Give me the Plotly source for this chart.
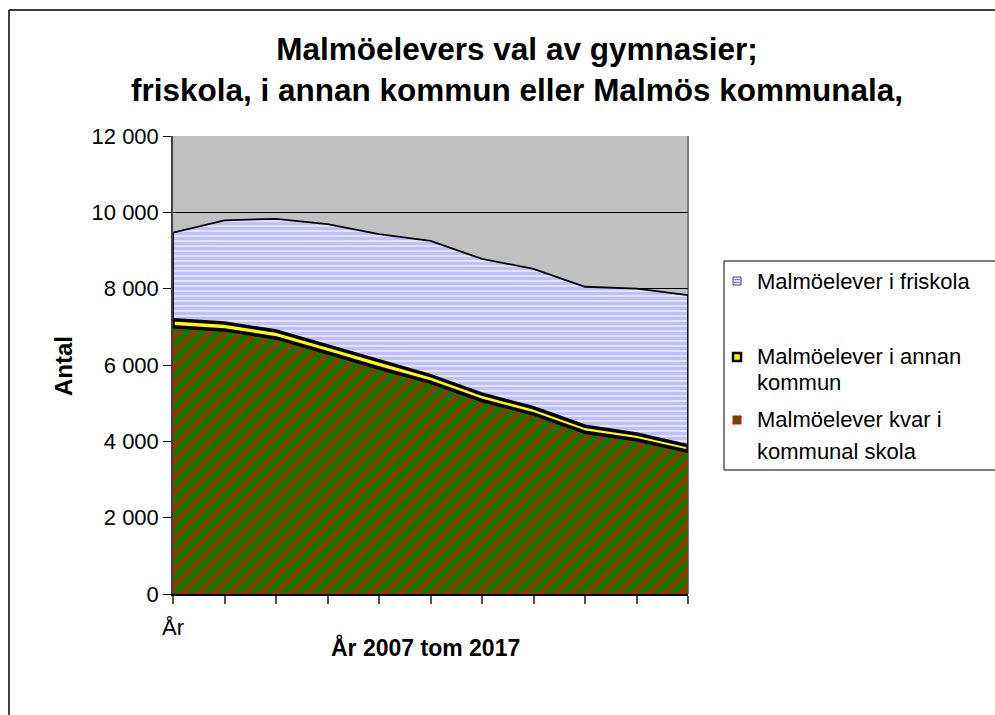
import plotly.graph_objects as go

years = [2007, 2008, 2009, 2010, 2011, 2012, 2013, 2014, 2015, 2016, 2017]
x_ticktext = ["År", "", "", "", "", "", "", "", "", "", ""]
kommunal = [7000, 6920, 6710, 6320, 5920, 5550, 5070, 4720, 4240, 4040, 3740]
annan = [185, 180, 180, 175, 175, 170, 165, 160, 155, 150, 145]
friskola = [2285, 2690, 2940, 3195, 3335, 3530, 3545, 3640, 3655, 3810, 3945]

names = ["Malmöelever i friskola", "Malmöelever i annan kommun", "Malmöelever kvar i kommunal skola"]

FONT = "Liberation Sans, Arial, sans-serif"

# stacked levels
lvl1 = kommunal
lvl2 = [a + b for a, b in zip(lvl1, annan)]
lvl3 = [a + b for a, b in zip(lvl2, friskola)]
zero = [0] * len(years)

def poly(lower, upper):
    xs = years + years[::-1]
    ys = upper + lower[::-1]
    return xs + [xs[0]], ys + [ys[0]]

fig = go.Figure()

x, y = poly(zero, lvl1)
fig.add_trace(go.Scatter(
    x=x, y=y, mode="lines", fill="toself", name=names[2],
    line=dict(color="#ff0000", width=1),
    fillpattern=dict(shape="/", bgcolor="#008000", fgcolor="#ff0000", size=11, solidity=0.55),
    hoverinfo="skip", showlegend=False))

x, y = poly(lvl2, lvl3)
fig.add_trace(go.Scatter(
    x=x, y=y, mode="lines", fill="toself", name=names[0],
    line=dict(color="#000000", width=1.8),
    fillpattern=dict(shape="-", bgcolor="#ffffff", fgcolor="#8080ff", size=5, solidity=0.78),
    hoverinfo="skip", showlegend=False))

x, y = poly(lvl1, lvl2)
fig.add_trace(go.Scatter(
    x=x, y=y, mode="lines", fill="toself", name=names[1],
    line=dict(color="#000000", width=3.5),
    fillcolor="#ffff00",
    hoverinfo="skip", showlegend=False))

L, R, T, B = 173, 688, 136, 594
W, H = 995, 715
def px(xp):
    return (xp - L) / (R - L)
def py(yp):
    return (B - yp) / (B - T)

shapes = []
# outer chart border
shapes.append(dict(type="line", xref="paper", yref="paper", x0=px(9), x1=px(9), y0=py(730), y1=py(10),
                   line=dict(color="#000000", width=1.5)))
shapes.append(dict(type="line", xref="paper", yref="paper", x0=px(9), x1=px(1010), y0=py(10), y1=py(10),
                   line=dict(color="#000000", width=1.5)))
# right plot border
shapes.append(dict(type="line", xref="paper", yref="paper", x0=1, x1=1, y0=0, y1=1, layer="below",
                   line=dict(color="#808080", width=2)))
# legend box
shapes.append(dict(type="rect", xref="paper", yref="paper", x0=px(724), x1=px(1030), y0=py(470), y1=py(261),
                   line=dict(color="#000000", width=1), fillcolor="rgba(0,0,0,0)"))
# legend symbols
shapes.append(dict(type="rect", xref="paper", yref="paper", x0=px(733), x1=px(741), y0=py(285), y1=py(277),
                   line=dict(color="#404040", width=1), fillcolor="#ffffff"))
for yy in (279.5, 282.5):
    shapes.append(dict(type="line", xref="paper", yref="paper", x0=px(733.5), x1=px(740.5), y0=py(yy), y1=py(yy),
                       line=dict(color="#8080ff", width=1.5)))
shapes.append(dict(type="rect", xref="paper", yref="paper", x0=px(733), x1=px(741), y0=py(361), y1=py(353),
                   line=dict(color="#000000", width=2.5), fillcolor="#ffff00"))
shapes.append(dict(type="rect", xref="paper", yref="paper", x0=px(733), x1=px(741), y0=py(424), y1=py(416),
                   line=dict(color="#ff0000", width=1), fillcolor="#008000"))
shapes.append(dict(type="line", xref="paper", yref="paper", x0=px(733), x1=px(741), y0=py(424), y1=py(416),
                   line=dict(color="#ff0000", width=2)))

annotations = []
annotations.append(dict(xref="paper", yref="paper", x=px(517), y=py(69), xanchor="center", yanchor="middle",
                        text="Malmöelevers val av gymnasier;<br>friskola, i annan kommun eller Malmös kommunala,",
                        showarrow=False, font=dict(family=FONT, size=31.5, color="#000000", weight="bold")))
annotations.append(dict(xref="paper", yref="paper", x=px(63), y=py(366), xanchor="center", yanchor="middle",
                        text="Antal", textangle=-90, showarrow=False,
                        font=dict(family=FONT, size=24, color="#000000", weight="bold")))
annotations.append(dict(xref="paper", yref="paper", x=px(425), y=py(647), xanchor="center", yanchor="middle",
                        text="År 2007 tom 2017", showarrow=False,
                        font=dict(family=FONT, size=23, color="#000000", weight="bold")))
leg_lines = [("Malmöelever i friskola", 281), ("Malmöelever i annan", 356), ("kommun", 382),
             ("Malmöelever kvar i", 419), ("kommunal skola", 451)]
for t, yy in leg_lines:
    annotations.append(dict(xref="paper", yref="paper", x=px(755), y=py(yy), xanchor="left", yanchor="middle",
                            text=t, showarrow=False,
                            font=dict(family=FONT, size=22, color="#000000")))

fig.update_layout(
    width=W, height=H, autosize=False,
    margin=dict(l=L, r=W - R, t=T, b=H - B, pad=0),
    paper_bgcolor="#ffffff", plot_bgcolor="#c0c0c0",
    separators=", ",
    showlegend=False,
    shapes=shapes, annotations=annotations,
    font=dict(family=FONT, color="#000000"),
    xaxis=dict(range=[2007, 2017], tickvals=years, ticktext=x_ticktext, showgrid=False, zeroline=False,
               showline=True, linecolor="#000000", linewidth=1.5, ticks="outside", ticklen=8,
               tickcolor="#555555", tickwidth=2, tickfont=dict(family=FONT, size=22, color="#000000"),
               ticklabelstandoff=5),
    yaxis=dict(range=[0, 12000], dtick=2000, tick0=0, tickformat=",d", showgrid=True, gridcolor="#000000",
               gridwidth=1, zeroline=False, showline=True, linecolor="#404040", linewidth=1.5,
               ticks="outside", ticklen=8, tickcolor="#000000", tickwidth=1,
               tickfont=dict(family=FONT, size=22, color="#000000")),
)

fig.write_html("out.html", config={"displayModeBar": False},
               post_script="document.body.style.margin='0';document.body.style.overflow='hidden';")
